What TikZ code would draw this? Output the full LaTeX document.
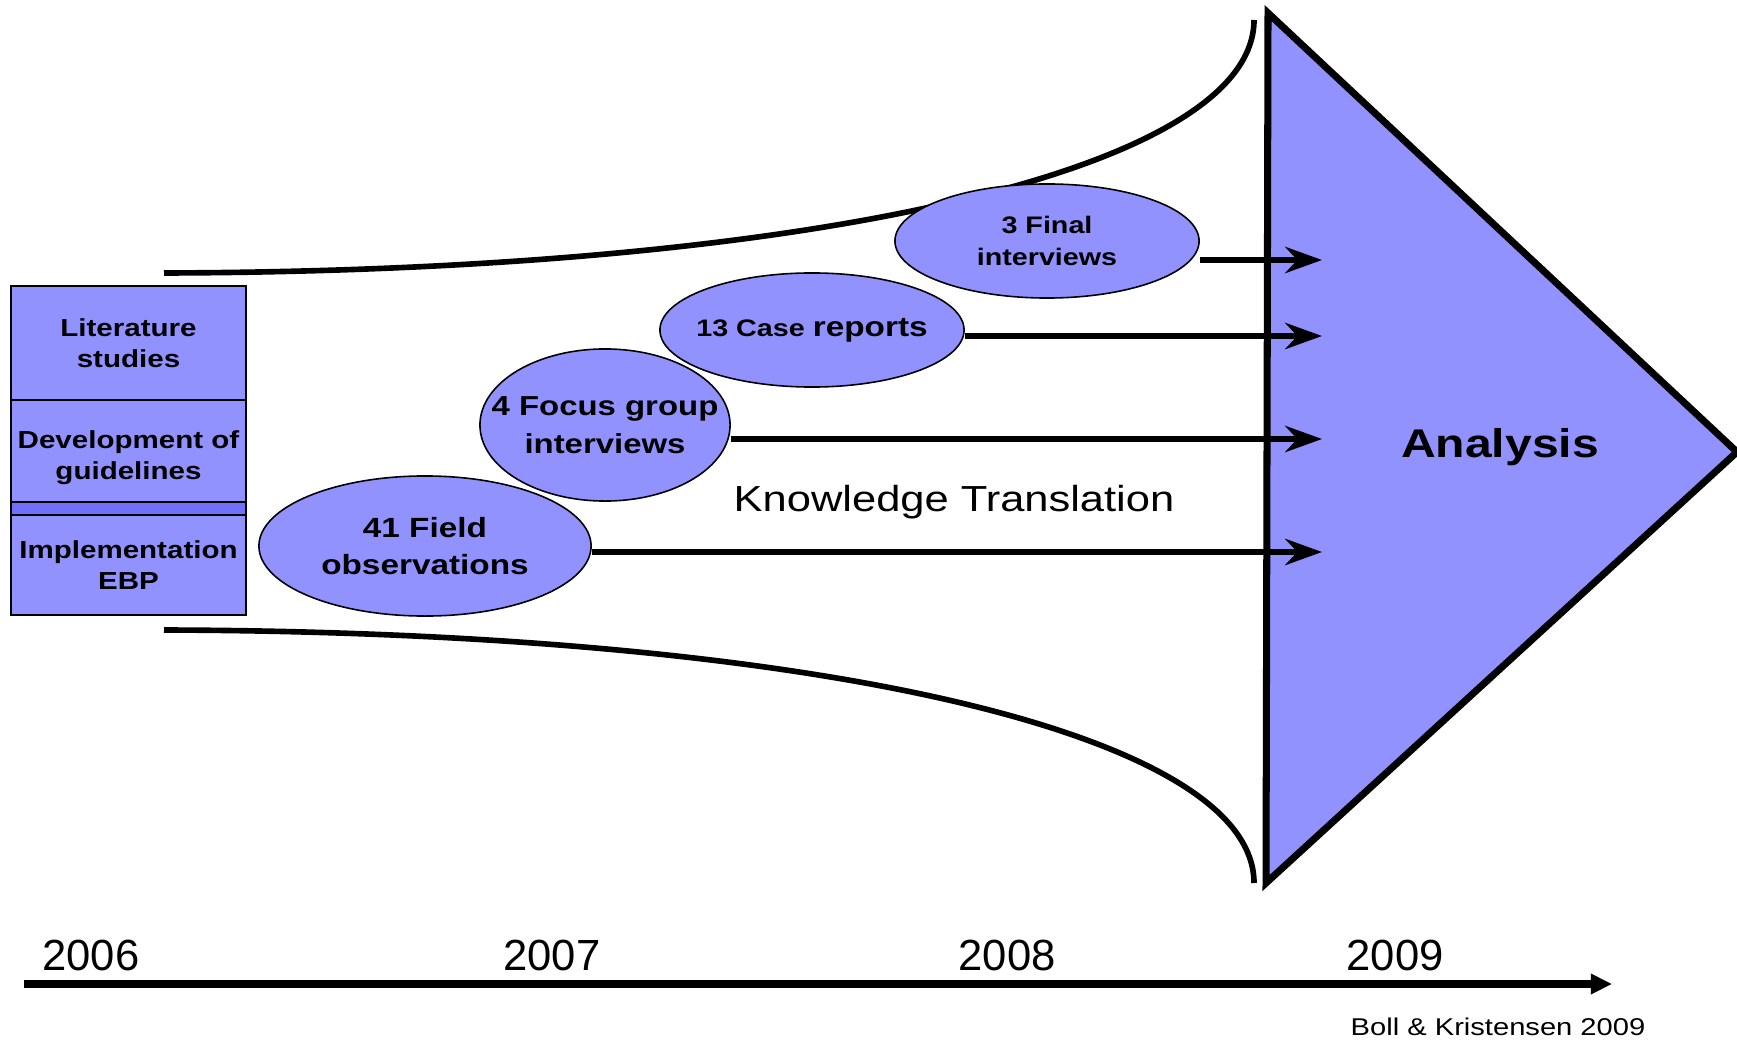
\documentclass[tikz,border=0pt]{standalone}
\usepackage{fontspec}
\setmainfont{Liberation Sans}
\newfontfamily\widesans[FakeStretch=1.2]{Liberation Sans}
\usetikzlibrary{arrows.meta,shapes.geometric}
\definecolor{lilac}{RGB}{146,146,255}
\definecolor{lilacdark}{RGB}{112,112,255}
\tikzset{>={Stealth[length=10.5pt,width=7.5pt,inset=3.5pt]}}
\tikzset{
  phase/.style={draw,fill=lilac,line width=0.6pt,minimum width=2.35cm,inner sep=0pt,
    align=center,font=\widesans\bfseries\fontsize{7.0}{8.8}\selectfont},
  study/.style={ellipse,draw,fill=lilac,line width=0.45pt,inner sep=-10pt,align=center},
  funnel/.style={line width=1.6pt},
  flow/.style={->,line width=1.6pt},
  year/.style={anchor=base,font=\fontsize{12.4}{14}\selectfont}
}

\begin{document}
\begin{tikzpicture}[x=0.01cm,y=-0.01cm]
  \useasboundingbox (0,0) rectangle (1737,1040);
  % funnel
  \draw[funnel] (164,273) .. controls (831,271) and (1254,166) .. (1254,20);
  \draw[funnel] (164,630) .. controls (831,632) and (1254,737) .. (1254,883);
  % analysis
  \draw[fill=lilac,line width=2pt,line join=miter] (1268,13) -- (1737,452) -- (1266,883) -- cycle;
  \node[anchor=base,font=\widesans\bfseries\fontsize{11.4}{13}\selectfont] (analysis) at (1500,457) {Analysis};
  % phases
  \node[phase,minimum height=1.14cm] (lit) at (128.5,343) {Literature\\studies};
  \node[phase,minimum height=1.15cm] (dev) at (128.5,457.5) {Development of\\guidelines};
  \node[phase,fill=lilacdark,minimum height=0.13cm] (band) at (128.5,508.5) {};
  \node[phase,minimum height=1.00cm] (impl) at (128.5,565) {Implementation\\EBP};
  % studies
  \node[study,minimum width=3.32cm,minimum height=1.40cm,
    font=\widesans\bfseries\fontsize{7.9}{10.5}\selectfont] (field) at (425,546) {41 Field\\observations};
  \node[study,minimum width=2.50cm,minimum height=1.52cm,
    font=\widesans\bfseries\fontsize{7.8}{10.8}\selectfont] (focus) at (605,425) {4 Focus group\\interviews};
  \node[study,minimum width=3.04cm,minimum height=1.14cm,
    font=\widesans\bfseries\fontsize{6.8}{9}\selectfont] (case) at (812,330) {13 Case {\fontsize{7.9}{9}\selectfont reports}};
  \node[study,minimum width=3.04cm,minimum height=1.14cm,
    font=\widesans\bfseries\fontsize{6.8}{9.1}\selectfont] (final) at (1047,241) {3 Final\\interviews};
  % arrows into analysis
  \coordinate (e1) at (1322,260);
  \coordinate (e2) at (1322,336);
  \coordinate (e3) at (1322,439);
  \coordinate (e4) at (1322,552);
  \draw[flow] (final.east |- e1) -- (e1);
  \draw[flow] (case.east |- e2) -- (e2);
  \draw[flow] (focus.east |- e3) -- (e3);
  \draw[flow] (field.east |- e4) -- (e4);
  \node[anchor=base,font=\widesans\fontsize{10.3}{12}\selectfont] (kt) at (954,511) {Knowledge Translation};
  % timeline
  \coordinate (t0) at (24,984);
  \coordinate (t1) at (1612,984);
  \draw[-{Triangle[length=6pt,width=5.5pt]},line width=2pt] (t0) -- (t1);
  \node[year] (y6) at (91,970) {2006};
  \node[year] (y7) at (552,970) {2007};
  \node[year] (y8) at (1007,970) {2008};
  \node[year] (y9) at (1395,970) {2009};
  \node[anchor=base,font=\widesans\fontsize{6.9}{8}\selectfont] (ref) at (1498,1035) {Boll \& Kristensen 2009};
\end{tikzpicture}
\end{document}
